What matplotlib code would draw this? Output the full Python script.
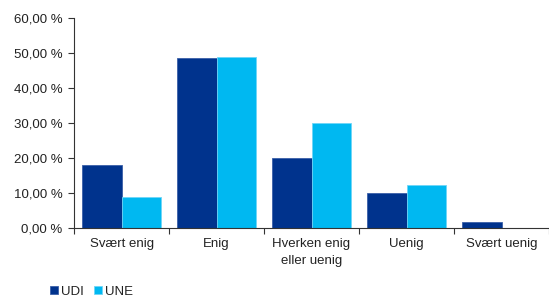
import matplotlib.pyplot as plt
import numpy as np
from matplotlib.ticker import FuncFormatter

plt.rcParams['font.family'] = ['Liberation Sans', 'DejaVu Sans']

categories = ["Svært enig", "Enig", "Hverken enig\neller uenig", "Uenig", "Svært uenig"]
udi = [18.0, 48.5, 20.0, 10.1, 1.7]
une = [8.9, 49.0, 29.9, 12.4, 0.0]
y_ticks = [0, 10, 20, 30, 40, 50, 60]

fig = plt.figure(figsize=(5.49, 3.02), dpi=100)
ax = fig.add_axes([0.135, 0.245, 0.865, 0.695])

x = np.arange(len(categories))
w = 0.415
ax.bar(x - w / 2, udi, w, color='#00338D', edgecolor='#3a5fa8', linewidth=0.6, label='UDI')
ax.bar(x + w / 2, une, w, color='#00B8F1', edgecolor='#6fd6f7', linewidth=0.6, label='UNE')

ax.set_xlim(-0.5, len(categories) - 0.5)
ax.set_ylim(0, 60)
ax.set_yticks(y_ticks)
ax.yaxis.set_major_formatter(FuncFormatter(lambda v, p: ('%.2f %%' % v).replace('.', ',')))

# boundaries as major ticks, labels on minor ticks
ax.set_xticks(np.arange(len(categories) + 1) - 0.5)
ax.set_xticklabels([])
ax.set_xticks(x, minor=True)
ax.set_xticklabels(categories, minor=True, linespacing=1.6)
ax.tick_params(axis='x', which='minor', length=0, pad=7, labelsize=9.5, colors='#222222')
ax.tick_params(axis='x', which='major', length=4, width=0.8, color='#333333')
ax.tick_params(axis='y', length=4.3, width=0.8, pad=4, labelsize=9.5, color='#333333', labelcolor='#222222')

for s in ['top', 'right']:
    ax.spines[s].set_visible(False)
for s in ['left', 'bottom']:
    ax.spines[s].set_color('#333333')
    ax.spines[s].set_linewidth(0.8)

fig.legend(loc='lower left', bbox_to_anchor=(0.07, -0.025), ncol=2, frameon=False,
           fontsize=9.5, handlelength=0.6, handleheight=0.6, handletextpad=0.2,
           columnspacing=0.8, labelcolor='#222222')

fig.savefig('out.png', dpi=100)
